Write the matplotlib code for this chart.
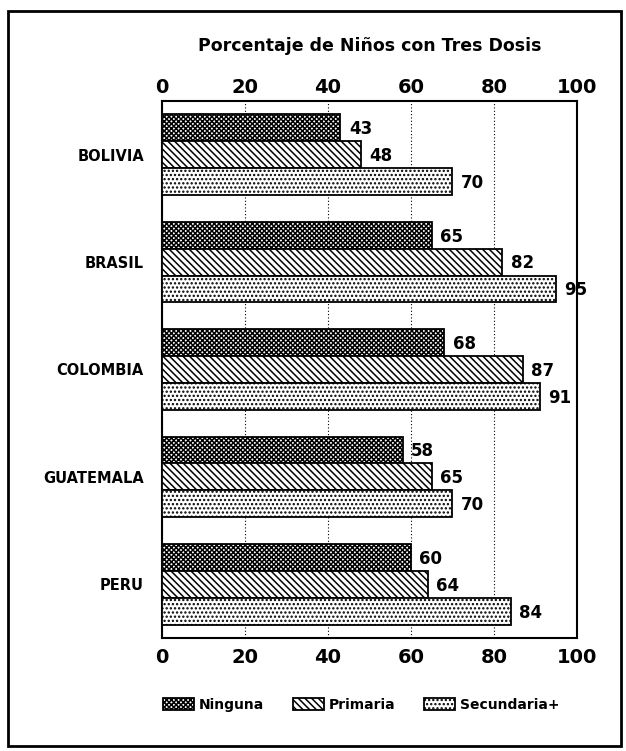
import matplotlib
matplotlib.use("Agg")
import matplotlib.pyplot as plt
from matplotlib.patches import Rectangle
import numpy as np

countries = ["BOLIVIA", "BRASIL", "COLOMBIA", "GUATEMALA", "PERU"]
series_names = ["Ninguna", "Primaria", "Secundaria+"]
ninguna = [43, 65, 68, 58, 60]
primaria = [48, 82, 87, 65, 64]
secundaria = [70, 95, 91, 70, 84]
x_ticks = [0, 20, 40, 60, 80, 100]
title = "Porcentaje de Niños con Tres Dosis"

plt.rcParams["font.family"] = ["DejaVu Sans"]
plt.rcParams["font.weight"] = "bold"
plt.rcParams["hatch.linewidth"] = 1.1
plt.rcParams["hatch.color"] = "black"

fig = plt.figure(figsize=(6.26, 7.51), dpi=100)
ax = fig.add_axes([0.2588, 0.1505, 0.6629, 0.715])

series = [ninguna, primaria, secundaria]
hatches = ["xxxxxxx", "\\" * 5, "...."]
bar_h = 0.25
y = np.arange(len(countries))

for i, (vals, name, h) in enumerate(zip(series, series_names, hatches)):
    pos = y + (i - 1) * bar_h
    ax.barh(pos, vals, height=bar_h, color="white", edgecolor="black",
            linewidth=1.3, hatch=h, label=name, zorder=3)
    for p, v in zip(pos, vals):
        ax.annotate(f"{v}", (v, p), xytext=(6, -1), textcoords="offset points",
                    ha="left", va="center", fontsize=12, fontweight="bold")

ax.set_xlim(0, 100)
ax.set_ylim(4.5, -0.5)
ax.set_yticks(y)
ax.set_yticklabels(countries, fontsize=10.5, fontweight="bold")
ax.tick_params(axis="y", length=0, pad=13)

ax.set_xticks(x_ticks)
ax.set_xticklabels([str(t) for t in x_ticks], fontsize=14, fontweight="bold")
ax.tick_params(axis="x", length=0, pad=7)

top = ax.secondary_xaxis("top")
top.set_xticks(x_ticks)
top.set_xticklabels([str(t) for t in x_ticks], fontsize=14, fontweight="bold")
top.tick_params(axis="x", length=0, pad=3)
top.spines["top"].set_visible(False)

ax.grid(axis="x", linestyle=(0, (1, 2)), color="black", linewidth=0.8, zorder=0)
for s in ax.spines.values():
    s.set_linewidth(1.5)

fig.text(0.59, 0.9387, title, ha="center", va="center", fontsize=12.5,
         fontweight="bold")

fig.legend(loc="center", bbox_to_anchor=(0.577, 0.061), ncol=3, frameon=False,
           fontsize=10, handlelength=2.2, handleheight=0.95,
           handletextpad=0.35, columnspacing=2.1, borderaxespad=0)

fig.patches.append(Rectangle((8 / 626, 1 - 746 / 751), 613 / 626, 735 / 751,
                             transform=fig.transFigure, fill=False,
                             edgecolor="black", linewidth=2.0))

fig.savefig("out.png", dpi=100, facecolor="white")
